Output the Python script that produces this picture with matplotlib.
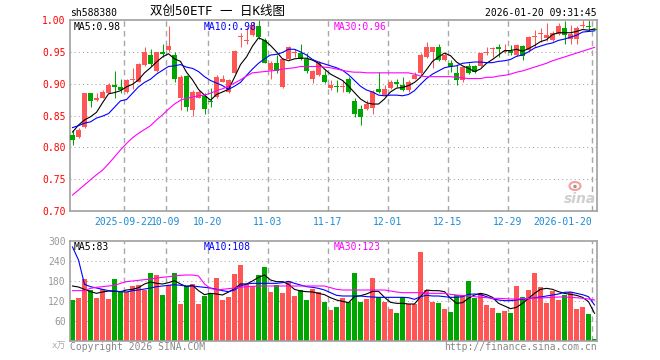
import matplotlib
matplotlib.use('Agg')
import matplotlib.pyplot as plt
import numpy as np
from matplotlib.patches import Ellipse
from matplotlib.transforms import IdentityTransform

# ---------------- data ----------------
opens = [0.819,0.817,0.832,0.885,0.875,0.878,0.886,0.898,0.894,0.887,
         0.906,0.903,0.929,0.945,0.920,0.949,0.953,0.945,0.878,0.912,
         0.859,0.878,0.881,0.873,0.879,0.903,0.887,0.917,0.973,0.967,
         0.976,0.990,0.969,0.921,0.933,0.894,0.938,0.948,0.948,0.938,
         0.908,0.914,0.914,0.893,0.897,0.895,0.908,0.873,0.860,0.860,
         0.861,0.891,0.882,0.893,0.902,0.898,0.890,0.908,0.916,0.942,
         0.950,0.957,0.937,0.933,0.917,0.905,0.928,0.928,0.927,0.948,
         0.954,0.957,0.949,0.952,0.945,0.959,0.953,0.974,0.978,0.971,
         0.969,0.978,0.987,0.970,0.970,0.991,0.991,0.986]
highs = [0.827,0.830,0.886,0.886,0.885,0.890,0.901,0.920,0.908,0.908,
         0.924,0.932,0.958,0.954,0.950,0.963,0.990,0.950,0.913,0.913,
         0.890,0.890,0.885,0.893,0.914,0.914,0.908,0.953,0.980,0.989,
         0.997,1.000,0.971,0.935,0.945,0.940,0.959,0.954,0.963,0.948,
         0.921,0.935,0.921,0.905,0.906,0.906,0.911,0.877,0.866,0.874,
         0.890,0.919,0.898,0.906,0.907,0.911,0.906,0.919,0.948,0.965,
         0.958,0.962,0.949,0.937,0.929,0.927,0.932,0.929,0.949,0.957,
         0.957,0.963,0.962,0.961,0.962,0.961,0.975,0.984,0.987,0.995,
         0.982,0.995,0.999,0.992,0.990,1.000,1.000,0.987]
lows = [0.804,0.814,0.830,0.864,0.872,0.877,0.885,0.877,0.886,0.886,
        0.892,0.902,0.928,0.927,0.919,0.942,0.950,0.902,0.859,0.857,
        0.849,0.877,0.853,0.863,0.877,0.902,0.886,0.916,0.958,0.962,
        0.975,0.970,0.932,0.908,0.916,0.893,0.937,0.942,0.937,0.916,
        0.901,0.912,0.901,0.890,0.887,0.887,0.885,0.847,0.835,0.859,
        0.853,0.886,0.881,0.891,0.895,0.889,0.887,0.907,0.914,0.940,
        0.924,0.935,0.936,0.919,0.898,0.903,0.915,0.916,0.926,0.945,
        0.942,0.942,0.948,0.945,0.944,0.937,0.952,0.958,0.966,0.967,
        0.967,0.976,0.963,0.963,0.963,0.988,0.983,0.984]
closes = [0.812,0.827,0.885,0.873,0.877,0.887,0.898,0.894,0.890,0.906,
          0.908,0.931,0.950,0.931,0.949,0.947,0.959,0.908,0.911,0.864,
          0.887,0.887,0.860,0.871,0.911,0.908,0.906,0.952,0.974,0.969,
          0.992,0.973,0.933,0.933,0.920,0.938,0.957,0.949,0.938,0.920,
          0.920,0.932,0.903,0.898,0.895,0.897,0.887,0.852,0.847,0.868,
          0.887,0.887,0.891,0.903,0.899,0.890,0.903,0.914,0.945,0.957,
          0.957,0.937,0.945,0.926,0.905,0.926,0.917,0.919,0.948,0.950,
          0.955,0.954,0.951,0.948,0.961,0.943,0.974,0.975,0.979,0.976,
          0.980,0.991,0.976,0.978,0.987,0.992,0.989,0.985]

ma5 = [0.824,0.835,0.843,0.848,0.855,0.870,0.884,0.886,0.889,0.895,
       0.899,0.906,0.917,0.925,0.934,0.942,0.947,0.939,0.935,0.918,
       0.906,0.891,0.882,0.874,0.883,0.887,0.891,0.910,0.930,0.942,
       0.959,0.972,0.968,0.960,0.950,0.939,0.936,0.939,0.940,0.940,
       0.937,0.932,0.923,0.915,0.910,0.905,0.896,0.886,0.876,0.870,
       0.868,0.868,0.876,0.887,0.893,0.894,0.897,0.902,0.910,0.922,
       0.935,0.942,0.948,0.944,0.934,0.928,0.924,0.919,0.923,0.932,
       0.938,0.945,0.952,0.952,0.954,0.951,0.955,0.960,0.966,0.969,
       0.977,0.980,0.980,0.980,0.982,0.985,0.984,0.986]
ma10 = [0.831,0.834,0.838,0.840,0.846,0.849,0.853,0.863,0.873,0.875,
        0.885,0.895,0.902,0.907,0.915,0.921,0.927,0.928,0.930,0.926,
        0.924,0.919,0.911,0.905,0.901,0.897,0.891,0.896,0.902,0.913,
        0.923,0.932,0.939,0.945,0.946,0.949,0.954,0.954,0.950,0.945,
        0.938,0.934,0.931,0.928,0.925,0.921,0.914,0.905,0.896,0.890,
        0.887,0.882,0.881,0.882,0.882,0.881,0.883,0.889,0.899,0.908,
        0.915,0.920,0.925,0.927,0.928,0.932,0.933,0.934,0.934,0.933,
        0.933,0.935,0.936,0.938,0.943,0.945,0.950,0.956,0.959,0.962,
        0.964,0.968,0.970,0.973,0.976,0.981,0.982,0.983]
ma30 = [0.725,0.733,0.741,0.749,0.757,0.764,0.774,0.785,0.796,0.806,
        0.815,0.822,0.828,0.834,0.843,0.851,0.860,0.868,0.874,0.877,
        0.879,0.881,0.882,0.885,0.889,0.892,0.896,0.901,0.906,0.912,
        0.917,0.918,0.919,0.920,0.921,0.923,0.924,0.925,0.927,0.927,
        0.927,0.927,0.926,0.925,0.923,0.921,0.919,0.918,0.918,0.917,
        0.917,0.917,0.917,0.917,0.917,0.917,0.917,0.915,0.912,0.911,
        0.911,0.911,0.911,0.911,0.910,0.909,0.908,0.908,0.908,0.910,
        0.910,0.912,0.913,0.915,0.918,0.920,0.923,0.926,0.929,0.932,
        0.936,0.939,0.942,0.945,0.948,0.951,0.954,0.957]

volumes = [123,128,185,153,128,155,125,185,148,148,
           165,168,153,203,198,138,168,203,111,165,
           171,111,135,145,188,123,131,201,228,171,
           165,198,221,146,168,143,181,135,153,123,
           155,148,118,93,101,128,118,205,118,125,
           190,131,118,96,85,131,111,111,268,153,
           118,115,96,88,138,138,181,128,143,108,
           100,85,91,85,165,131,153,205,163,113,
           151,123,138,146,96,103,81,6]
vma5 = [165,162,155,148,143,147,150,149,148,153,
        155,160,171,177,173,171,175,181,171,163,
        167,151,139,143,141,138,147,157,171,171,
        180,191,198,183,178,178,170,155,150,148,
        147,143,139,130,123,119,115,133,136,141,
        149,149,131,116,113,113,111,111,133,153,
        151,151,148,128,113,115,128,138,143,139,
        131,113,105,97,101,113,128,143,155,158,
        155,148,143,140,137,131,118,83]
vma10 = [282,243,170,163,159,155,151,150,148,147,
         151,153,156,159,163,165,167,169,167,165,
         165,163,161,159,155,151,148,153,165,171,
         173,173,173,173,173,175,179,173,168,163,
         161,158,153,145,137,135,135,135,135,133,
         132,131,131,131,131,131,130,125,133,137,
         135,135,133,131,131,133,140,141,139,133,
         127,123,121,121,123,125,127,130,132,135,
         138,141,146,147,143,139,133,108]
vma30 = [151,151,151,158,161,163,165,167,173,178,
         180,182,184,186,189,191,193,195,197,198,
         198,195,171,158,153,155,157,159,161,163,
         164,165,165,165,165,165,165,165,165,165,
         165,165,165,160,155,153,153,153,153,153,
         153,153,153,150,147,145,145,145,145,143,
         143,143,143,140,138,136,135,133,131,130,
         128,128,127,126,126,127,128,129,129,130,
         131,132,132,131,130,128,126,123]

date_labels = ['2025-09-22', '10-09', '10-20', '11-03', '11-17',
               '12-01', '12-15', '12-29', '2026-01-20']
date_index = [9, 16, 23, 33, 43, 53, 63, 73, 87]
price_ticks = [0.70, 0.75, 0.80, 0.85, 0.90, 0.95, 1.00]
vol_ticks = [60, 120, 180, 240, 300]

# ---------------- style ----------------
RED = '#FF5555'
GREEN = '#00A600'
GRID = '#A8A8A8'
FRAME = '#A0A0A0'
BLUE = '#0000FF'
MAG = '#FF00FF'
XLAB = '#1A8AD4'
GRAYTXT = '#999999'
MONO = 'DejaVu Sans Mono'
FS = 7

W, H = 660, 360
fig = plt.figure(figsize=(6.6, 3.6), dpi=100)
fig.patch.set_facecolor('white')

def fx(x):
    return x / W

def fy(y):
    return 1 - y / H

L, R = 70, 597
ax = fig.add_axes([fx(L), fy(211), (R - L) / W, (211 - 20) / H])
axv = fig.add_axes([fx(L), fy(341), (R - L) / W, (341 - 241) / H])

o = np.array(opens); h = np.array(highs); lo = np.array(lows); c = np.array(closes)
n = len(c)
idx = np.arange(n)
BW = 5 / 6
xc = idx + BW / 2
cols = np.where(c >= o, RED, GREEN)

for a in (ax, axv):
    a.set_xlim(0, (R - L) / 6)
    for s in a.spines.values():
        s.set_color(FRAME)
        s.set_linewidth(1.2)
    a.tick_params(length=0)
    for t in date_index:
        a.axvline(t, color=GRID, lw=1.0, ls=(0, (4, 3)), zorder=0)

# price panel
ax.set_ylim(0.70, 1.00)
for v in [0.75, 0.80, 0.85, 0.90, 0.95]:
    ax.axhline(v, color=GRID, lw=0.75, ls=(0, (1, 3)), zorder=0)
ax.vlines(xc, lo, h, colors=cols, lw=0.75, zorder=2)
ax.bar(idx, np.maximum(np.abs(c - o), 0.0016), bottom=np.minimum(o, c), width=BW,
       align='edge', color=cols, linewidth=0, antialiased=False, zorder=3)
ax.plot(xc, ma5, color='black', lw=0.8, zorder=4)
ax.plot(xc, ma10, color=BLUE, lw=0.8, zorder=4)
ax.plot(xc, ma30, color=MAG, lw=0.8, zorder=4)
ax.set_yticks(price_ticks)
ax.set_yticklabels(['%.2f' % v for v in price_ticks], color='red', fontsize=FS, family=MONO)
ax.tick_params(axis='y', pad=3)
ax.set_xticks(date_index)
ax.set_xticklabels(date_labels, color=XLAB, fontsize=FS, family=MONO)
ax.tick_params(axis='x', pad=4)
ax.get_xticklabels()[-1].set_horizontalalignment('right')

# volume panel
axv.set_ylim(0, 300)
for v in [60, 120, 180, 240]:
    axv.axhline(v, color=GRID, lw=0.75, ls=(0, (1, 3)), zorder=0)
axv.bar(idx, volumes, width=BW, align='edge', color=cols, linewidth=0,
        antialiased=False, zorder=2)
axv.plot(xc, vma5, color='black', lw=0.8, zorder=4)
axv.plot(xc, vma10, color=BLUE, lw=0.8, zorder=4)
axv.plot(xc, vma30, color=MAG, lw=0.8, zorder=4)
axv.set_yticks(vol_ticks)
axv.set_yticklabels([str(v) for v in vol_ticks], color=GRAYTXT, fontsize=FS, family=MONO)
axv.tick_params(axis='y', pad=3)
axv.set_xticks([])

# texts
fig.text(fx(70), fy(13.5), 'sh588380', fontsize=FS, family=MONO, color='black',
         ha='left', va='center')
fig.text(fx(217), fy(11.5), '双创50ETF 一 日K线图', fontsize=9,
         family=[MONO, 'Noto Sans CJK SC'], color='black', ha='center', va='center')
fig.text(fx(597), fy(13.5), '2026-01-20 09:31:45', fontsize=FS, family=MONO,
         color='black', ha='right', va='center')
fig.text(fx(74), fy(26.5), 'MA5:0.98', fontsize=FS, family=MONO, color='black', va='center')
fig.text(fx(204), fy(26.5), 'MA10:0.98', fontsize=FS, family=MONO, color=BLUE, va='center')
fig.text(fx(334), fy(26.5), 'MA30:0.96', fontsize=FS, family=MONO, color=MAG, va='center')
fig.text(fx(74), fy(246.5), 'MA5:83', fontsize=FS, family=MONO, color='black', va='center')
fig.text(fx(204), fy(246.5), 'MA10:108', fontsize=FS, family=MONO, color=BLUE, va='center')
fig.text(fx(334), fy(246.5), 'MA30:123', fontsize=FS, family=MONO, color=MAG, va='center')
fig.text(fx(66), fy(346.5), 'x万', fontsize=6.5, family=[MONO, 'Noto Sans CJK SC'],
         color='#AAAAAA', ha='right', va='center')
fig.text(fx(70), fy(346.5), 'Copyright 2026 SINA.COM', fontsize=FS, family=MONO,
         color='#888888', ha='left', va='center')
fig.text(fx(597), fy(346.5), 'http://finance.sina.com.cn', fontsize=FS, family=MONO,
         color='#888888', ha='right', va='center')

# sina watermark
fig.text(fx(596), fy(199), 'sina', fontsize=10, family='DejaVu Sans', style='italic',
         weight='bold', color='#CFCFCF', ha='right', va='center')
fig.patches.append(Ellipse((575, H - 186), 11, 8, transform=IdentityTransform(),
                           facecolor='none', edgecolor='#F2A0A0', lw=1.5))
fig.patches.append(Ellipse((575, H - 186.5), 3.5, 3.5, transform=IdentityTransform(),
                           facecolor='#999999', edgecolor='none'))

fig.savefig('out.png', dpi=100, facecolor='white')
